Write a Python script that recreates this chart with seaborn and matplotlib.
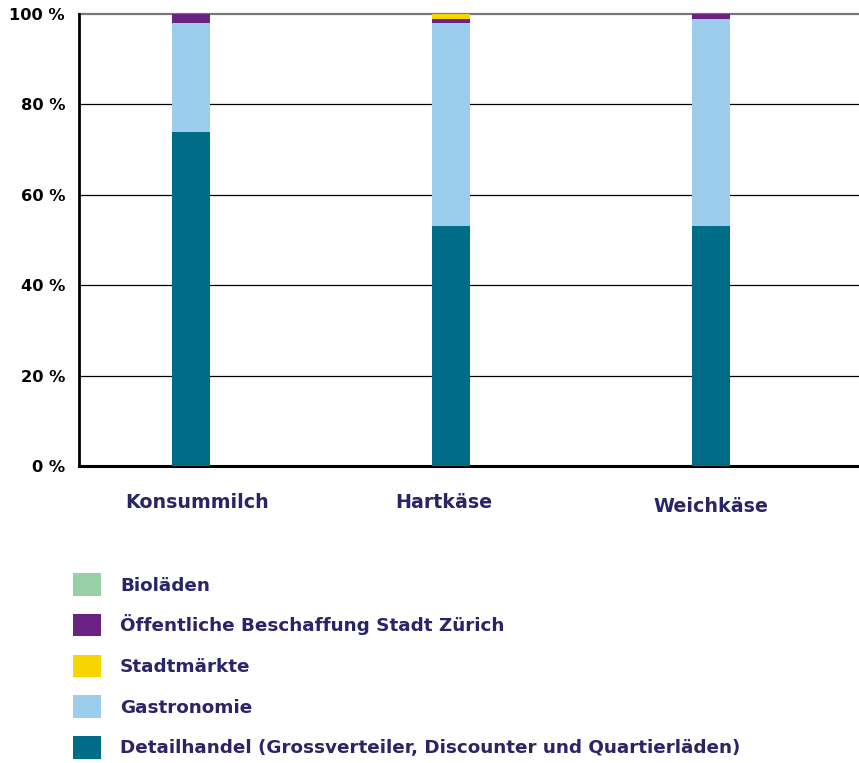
import matplotlib
matplotlib.use("Agg")
import matplotlib.pyplot as plt
import matplotlib.transforms as mtransforms
from matplotlib.patches import Patch
import numpy as np
import pandas as pd
import seaborn as sns

categories = ["Konsummilch", "Hartkäse", "Weichkäse"]
# Shares in percent, stacked bottom to top
detailhandel = [74, 53, 53]
gastronomie = [24, 45, 46]
oeffentliche = [2, 1, 1]
stadtmaerkte = [0, 1, 0]
biolaeden = [0, 0, 0]

series = [
    ("Detailhandel (Grossverteiler, Discounter und Quartierläden)", detailhandel, "#006d88"),
    ("Gastronomie", gastronomie, "#9dcdec"),
    ("Öffentliche Beschaffung Stadt Zürich", oeffentliche, "#6a2383"),
    ("Stadtmärkte", stadtmaerkte, "#f7d500"),
    ("Bioläden", biolaeden, "#99cfa6"),
]
legend_order = [
    "Bioläden",
    "Öffentliche Beschaffung Stadt Zürich",
    "Stadtmärkte",
    "Gastronomie",
    "Detailhandel (Grossverteiler, Discounter und Quartierläden)",
]

sns.set_style("white")
plt.rcParams["font.family"] = ["DejaVu Sans"]
plt.rcParams["font.weight"] = "bold"

navy = "#2b2466"

fig = plt.figure(figsize=(8.59, 7.63), dpi=100)
ax = fig.add_axes([79 / 859, (763 - 466) / 763, 780 / 859, 452 / 763])

# cumulative tops, drawn from the highest layer down so lower layers overlay
cum = np.cumsum([s[1] for s in series], axis=0)
for (name, vals, color), top in reversed(list(zip(series, cum))):
    df = pd.DataFrame({"cat": categories, "val": top})
    sns.barplot(data=df, x="cat", y="val", color=color, width=0.146,
                saturation=1, linewidth=0, edgecolor="none", ax=ax, zorder=3)

ax.set_xlim(-0.431, 2.569)
ax.set_ylim(0, 100)
ax.set_yticks([0, 20, 40, 60, 80, 100])
ax.set_yticklabels([f"{v} %" for v in [0, 20, 40, 60, 80, 100]],
                   fontsize=11.7, fontweight="bold", color="black")
for v in [20, 40, 60, 80]:
    ax.axhline(v, color="black", lw=0.9, zorder=1)
ax.axhline(100, color="#777777", lw=1.6, zorder=1, clip_on=False)

# category names as free text so each can be nudged by a few pixels
ax.set_xticks(range(len(categories)))
ax.set_xticklabels([])
blend = mtransforms.blended_transform_factory(ax.transData, ax.transAxes)
for i, (cat, (dx, dy)) in enumerate(zip(categories, [(6, 0), (-7, 0), (0, 4)])):
    tr = blend + mtransforms.ScaledTranslation(dx / 100, -dy / 100, fig.dpi_scale_trans)
    ax.text(i, -37 / 452, cat, transform=tr, ha="center", va="center",
            fontsize=13.7, fontweight="bold", color=navy)
ax.tick_params(axis="x", length=0, pad=0)
ax.tick_params(axis="y", length=0, pad=10)
ax.set_xlabel("")
ax.set_ylabel("")

for side in ["top", "right"]:
    ax.spines[side].set_visible(False)
ax.spines["left"].set_color("black")
ax.spines["left"].set_linewidth(2)
ax.spines["bottom"].set_color("black")
ax.spines["bottom"].set_linewidth(2.2)

colors = {name: color for name, _, color in series}
handles = [Patch(facecolor=colors[n], edgecolor="none", label=n) for n in legend_order]
leg = fig.legend(handles=handles, loc="upper left",
                 bbox_to_anchor=(66 / 859, 1 - 566 / 763),
                 frameon=False, fontsize=13.2, handlelength=1.5, handleheight=1.5,
                 handletextpad=1.05, labelspacing=1.0, borderaxespad=0)
for t in leg.get_texts():
    t.set_color(navy)
    t.set_fontweight("bold")

fig.savefig("out.png", dpi=100)
